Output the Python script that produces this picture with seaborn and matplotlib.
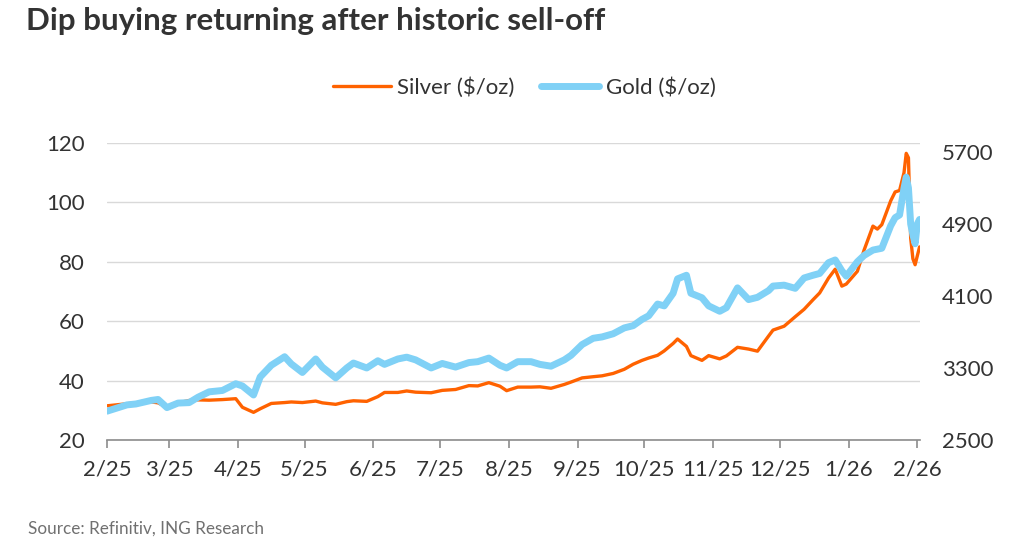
import matplotlib.pyplot as plt
import matplotlib.dates as mdates
import pandas as pd
import seaborn as sns
from matplotlib.ticker import FuncFormatter

# ---- Data

dates = [
    "2025-02-01", "2025-02-10", "2025-02-14", "2025-02-21", "2025-02-24", "2025-02-28",
    "2025-03-05", "2025-03-10", "2025-03-14", "2025-03-19", "2025-03-25", "2025-03-31",
    "2025-04-03", "2025-04-08", "2025-04-11", "2025-04-16", "2025-04-22", "2025-04-25", "2025-04-30",
    "2025-05-06", "2025-05-09", "2025-05-15", "2025-05-20", "2025-05-23", "2025-05-29",
    "2025-06-03", "2025-06-06", "2025-06-12", "2025-06-16", "2025-06-20", "2025-06-27",
    "2025-07-02", "2025-07-08", "2025-07-14", "2025-07-18", "2025-07-23", "2025-07-28", "2025-07-31",
    "2025-08-05", "2025-08-11", "2025-08-15", "2025-08-20", "2025-08-26", "2025-08-29",
    "2025-09-03", "2025-09-08", "2025-09-12", "2025-09-17", "2025-09-22", "2025-09-26", "2025-09-30",
    "2025-10-03", "2025-10-07", "2025-10-10", "2025-10-14", "2025-10-16", "2025-10-20",
    "2025-10-22", "2025-10-27", "2025-10-30",
    "2025-11-04", "2025-11-07", "2025-11-12", "2025-11-17", "2025-11-21", "2025-11-26", "2025-11-28",
    "2025-12-03", "2025-12-08", "2025-12-12", "2025-12-16", "2025-12-19", "2025-12-23",
    "2025-12-26", "2025-12-29", "2025-12-31",
    "2026-01-05", "2026-01-08", "2026-01-12", "2026-01-14", "2026-01-16", "2026-01-20",
    "2026-01-22", "2026-01-24", "2026-01-26", "2026-01-27", "2026-01-28", "2026-01-29",
    "2026-01-30", "2026-01-31", "2026-02-01", "2026-02-02",
]

silver = [
    31.5, 32.2, 32.5, 32.8, 32.5, 31.0,
    32.5, 33.3, 33.5, 33.4, 33.6, 33.9,
    31.0, 29.3, 30.5, 32.3, 32.6, 32.8, 32.6,
    33.1, 32.5, 32.0, 32.9, 33.2, 33.0,
    34.6, 36.0, 36.0, 36.5, 36.1, 35.9,
    36.7, 37.0, 38.3, 38.2, 39.3, 38.1, 36.6,
    37.8, 37.8, 37.9, 37.4, 38.7, 39.5,
    40.9, 41.3, 41.6, 42.4, 43.8, 45.5, 46.8,
    47.6, 48.5, 50.0, 52.5, 54.0, 51.5,
    48.4, 46.8, 48.4,
    47.3, 48.3, 51.2, 50.6, 49.9, 55.0, 57.0,
    58.3, 61.5, 64.0, 67.2, 69.5, 74.5,
    77.5, 71.8, 72.5,
    76.8, 83.9, 92.0, 91.0, 92.5, 100.5,
    103.5, 104.0, 110.0, 116.5, 115.0, 88.0,
    81.0, 79.0, 82.0, 85.0,
]

gold = [
    2820, 2890, 2900, 2940, 2950, 2860,
    2910, 2915, 2975, 3035, 3050, 3125,
    3100, 3000, 3200, 3330, 3425, 3345, 3250,
    3400, 3310, 3190, 3300, 3355, 3300,
    3380, 3340, 3400, 3420, 3390, 3300,
    3350, 3310, 3360, 3370, 3410, 3330, 3300,
    3370, 3370, 3340, 3320, 3390, 3440,
    3560, 3630, 3645, 3680, 3745, 3770, 3840,
    3880, 4010, 3990, 4130, 4290, 4330,
    4130, 4080, 3990,
    3930, 3970, 4190, 4060, 4085, 4160, 4210,
    4220, 4185, 4300, 4330, 4350, 4470,
    4500, 4380, 4320,
    4480, 4550, 4610, 4620, 4630, 4880,
    4970, 5000, 5300, 5420, 5300, 4900,
    4780, 4680, 4900, 4950,
]

left_ticks = [20, 40, 60, 80, 100, 120]
right_ticks = [2500, 3300, 4100, 4900, 5700]

SILVER_COLOR = "#FF6200"
GOLD_COLOR = "#80D1F6"
TEXT_COLOR = "#333333"

# ---- Style

sns.set_theme(style="white")
plt.rcParams["font.family"] = ["Lato", "DejaVu Sans"]

df = pd.DataFrame({"date": pd.to_datetime(dates), "silver": silver, "gold": gold})

fig = plt.figure(figsize=(10.24, 5.45), dpi=100)
ax = fig.add_axes([0.1045, 0.1927, 0.7935, 0.545])
ax2 = ax.twinx()

sns.lineplot(data=df, x="date", y="silver", ax=ax, color=SILVER_COLOR,
             linewidth=2.4, label="Silver ($/oz)", legend=False)
sns.lineplot(data=df, x="date", y="gold", ax=ax2, color=GOLD_COLOR,
             linewidth=5.0, label="Gold ($/oz)", legend=False)

ax.set_ylim(20, 120)
ax2.set_ylim(2500, 5800)
ax.set_yticks(left_ticks)
ax2.set_yticks(right_ticks)
ax.set_xlim(pd.Timestamp("2025-02-01"), pd.Timestamp("2026-02-02"))

ax.xaxis.set_major_locator(mdates.MonthLocator())
ax.xaxis.set_major_formatter(
    FuncFormatter(lambda v, pos: f"{mdates.num2date(v).month}/{mdates.num2date(v):%y}"))

ax.grid(axis="y", color="#d9d9d9", linewidth=1)
ax.set_axisbelow(True)

for a in (ax, ax2):
    for side in ("top", "left", "right"):
        a.spines[side].set_visible(False)
    a.set_xlabel("")
    a.set_ylabel("")
ax2.spines["bottom"].set_visible(False)
ax.spines["bottom"].set_color("#8c8c8c")
ax.spines["bottom"].set_linewidth(1.2)

ax.tick_params(axis="x", direction="out", length=6, width=1.2, color="#8c8c8c",
               pad=8, labelsize=16, labelcolor=TEXT_COLOR, bottom=True)
ax.tick_params(axis="y", length=0, pad=16, labelsize=16, labelcolor=TEXT_COLOR)
ax2.tick_params(axis="y", length=0, pad=16, labelsize=16, labelcolor=TEXT_COLOR)

# ---- Legend, title, source

lines = ax.get_lines()[:1] + ax2.get_lines()[:1]
fig.legend(lines, [l.get_label() for l in lines], loc="center",
           bbox_to_anchor=(0.512, 0.84), ncol=2, frameon=False,
           fontsize=16, handlelength=2.6, columnspacing=1.2, handletextpad=0.3,
           labelcolor=TEXT_COLOR)

fig.text(0.025, 0.961, "Dip buying returning after historic sell-off",
         fontsize=22.5, fontweight="bold", color=TEXT_COLOR, va="center", ha="left")
fig.text(0.027, 0.03, "Source: Refinitiv, ING Research",
         fontsize=12.3, color="#707070", va="center", ha="left")

fig.savefig("out.png", dpi=100)
